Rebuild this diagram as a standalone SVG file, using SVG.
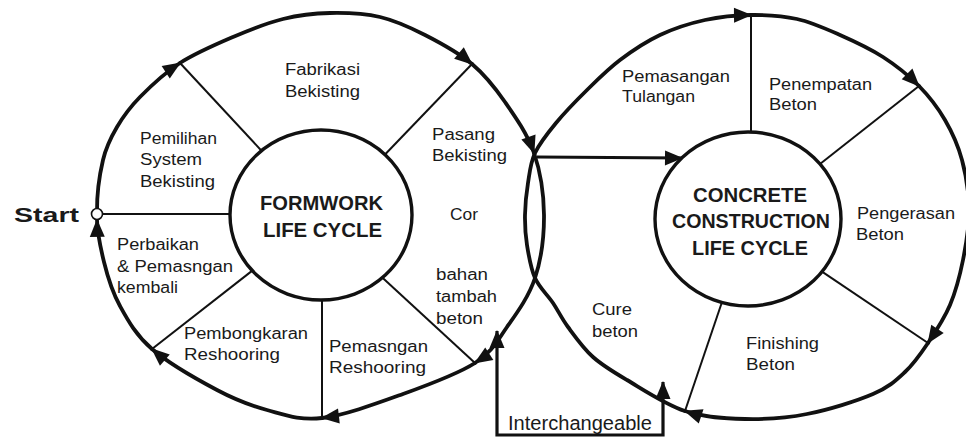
<svg xmlns="http://www.w3.org/2000/svg" width="966" height="437" viewBox="0 0 966 437">
  <style>
    .loop { fill: none; stroke: #111; stroke-width: 3.8; stroke-linecap: round; stroke-linejoin: round; }
    .flow { marker-end: url(#ah); }
    .spoke { fill: none; stroke: #111; stroke-width: 2; }
    .hub { fill: none; stroke: #111; stroke-width: 3.4; }
    .t { font-family: "Liberation Sans", Arial, Helvetica, sans-serif; font-size: 16px; fill: #1a1a1a; }
    .b { font-family: "Liberation Sans", Arial, Helvetica, sans-serif; font-size: 20px; font-weight: bold; fill: #1a1a1a; }
  </style>
  <defs>
    <marker id="ah" markerUnits="userSpaceOnUse" markerWidth="19" markerHeight="15" refX="17" refY="7.5" orient="auto" overflow="visible">
      <path d="M0,0 L18,7.5 L0,15 Z" fill="#111"/>
    </marker>
    <marker id="ah-rev" markerUnits="userSpaceOnUse" markerWidth="19" markerHeight="15" refX="17" refY="7.5" orient="auto-start-reverse" overflow="visible">
      <path d="M0,0 L18,7.5 L0,15 Z" fill="#111"/>
    </marker>
  </defs>

  <rect width="966" height="437" fill="#fff"/>

  <!-- stage boundaries (spokes from hub to outer loop) -->
  <g id="spokes">
    <line class="spoke" x1="102" y1="214" x2="230" y2="214"/>
    <line class="spoke" x1="180" y1="63" x2="261.5" y2="150.7"/>
    <line class="spoke" x1="472" y1="64" x2="385" y2="154.5"/>
    <line class="spoke" x1="475" y1="363" x2="382.5" y2="277.7"/>
    <line class="spoke" x1="322" y1="418" x2="322" y2="300"/>
    <line class="spoke" x1="152" y1="349" x2="252.3" y2="270.6"/>
    <line class="spoke" x1="751" y1="15" x2="751" y2="132"/>
    <line class="spoke" x1="919" y1="86" x2="820" y2="164"/>
    <line class="spoke" x1="928" y1="343" x2="822" y2="271.6"/>
    <line class="spoke" x1="685" y1="411" x2="722" y2="302"/>
  </g>

  <!-- connectors: the two life-cycle loops, the hand-over arrow and the interchange link -->
  <g id="connectors">
    <path id="fw-1" class="loop flow" d="M97,212 C96.83,195 99.67,174.17 103,160 C106.33,145.83 110.83,137.5 117,127 C123.17,116.5 129.5,107.67 140,97 C150.5,86.33 164.5,73 180,63"/>
    <path id="fw-2" class="loop flow" d="M180,63 C195.5,53 215.83,44.33 233,37 C250.17,29.67 266.83,23 283,19 C299.17,15 313.83,13.33 330,13 C346.17,12.67 364.17,13.33 380,17 C395.83,20.67 409.67,27.17 425,35 C440.33,42.83 458.67,52.83 472,64"/>
    <path id="fw-3" class="loop flow" d="M472,64 C485.33,75.17 494.67,87.17 505,102 C515.33,116.83 527.5,134.17 534,153"/>
    <path id="fw-4" class="loop flow" d="M534,153 C540.5,171.83 543.83,194.17 544,215 C544.17,235.83 541.17,259.33 535,278 C528.83,296.67 517,312.83 507,327 C497,341.17 492.33,351.83 475,363"/>
    <path id="fw-5" class="loop flow" d="M475,363 C457.67,374.17 428.5,384.83 403,394 C377.5,403.17 344.67,415.33 322,418"/>
    <path id="fw-6" class="loop flow" d="M322,418 C299.33,420.67 284.5,414.67 267,410 C249.5,405.33 236.17,400.17 217,390 C197.83,379.83 168.17,363 152,349"/>
    <path id="fw-7" class="loop flow" d="M152,349 C135.83,335 128,320.5 120,306 C112,291.5 107.83,277.67 104,262 C100.17,246.33 97.2,232 97,220"/>

    <path id="cc-1" class="loop flow" d="M685,411 C665.33,404.5 642.33,389 627,380 C611.67,371 602.83,365.83 593,357 C583.17,348.17 574.67,336 568,327 C561.33,318 558.5,311.17 553,303 C547.5,294.83 539.33,287.67 535,278 C530.67,268.33 528.67,255.5 527,245 C525.33,234.5 524.83,225.33 525,215 C525.17,204.67 526.33,193.33 528,183 C529.67,172.67 530.33,163 535,153 C539.67,143 547.33,133.5 556,123 C564.67,112.5 576.33,100.5 587,90 C597.67,79.5 607.83,69.17 620,60 C632.17,50.83 645.83,41.67 660,35 C674.17,28.33 689.83,23.33 705,20 C720.17,16.67 735.67,15.17 751,15"/>
    <path id="cc-2" class="loop flow" d="M751,15 C766.33,14.83 782.17,15.67 797,19 C811.83,22.33 825.67,28.67 840,35 C854.33,41.33 869.83,48.5 883,57 C896.17,65.5 908.67,75.5 919,86"/>
    <path id="cc-3" class="loop flow" d="M919,86 C929.33,96.5 937.83,107.67 945,120 C952.17,132.33 958,145 962,160 C966,175 968.83,193.33 969,210 C969.17,226.67 966.17,244.17 963,260 C959.83,275.83 955.83,291.17 950,305 C944.17,318.83 935.5,331.83 928,343"/>
    <path id="cc-4" class="loop flow" d="M928,343 C920.5,354.17 914.17,363.5 905,372 C895.83,380.5 889.33,387 873,394 C856.67,401 828.33,409.83 807,414 C785.67,418.17 765.33,419.5 745,419 C724.67,418.5 704.67,417.5 685,411"/>

    <path id="handover" d="M537,157 L682,158" fill="none" stroke="#111" stroke-width="3.2" marker-end="url(#ah)"/>
    <path id="interchange" d="M497,331 V435 H663 V382" fill="none" stroke="#111" stroke-width="3.2" marker-start="url(#ah-rev)" marker-end="url(#ah)"/>
  </g>

  <!-- hubs -->
  <g id="formwork-hub">
    <ellipse class="hub" cx="321" cy="215" rx="91" ry="85"/>
    <text class="b" x="260" y="210" textLength="123" lengthAdjust="spacingAndGlyphs">FORMWORK</text>
    <text class="b" x="263" y="237" textLength="119" lengthAdjust="spacingAndGlyphs">LIFE CYCLE</text>
  </g>
  <g id="concrete-hub">
    <ellipse class="hub" cx="748" cy="219" rx="93" ry="87"/>
    <text class="b" x="693" y="202" textLength="114" lengthAdjust="spacingAndGlyphs">CONCRETE</text>
    <text class="b" x="672" y="228" textLength="158" lengthAdjust="spacingAndGlyphs">CONSTRUCTION</text>
    <text class="b" x="692" y="255" textLength="116" lengthAdjust="spacingAndGlyphs">LIFE CYCLE</text>
  </g>

  <g id="start">
    <circle cx="97" cy="214" r="5.5" fill="#fff" stroke="#111" stroke-width="1.6"/>
    <text class="b" x="14" y="222" textLength="65" lengthAdjust="spacingAndGlyphs" style="font-size:21px">Start</text>
  </g>

  <!-- formwork stages -->
  <g id="pemilihan-system">
    <text class="t" x="140" y="144" textLength="77" lengthAdjust="spacingAndGlyphs">Pemilihan</text>
    <text class="t" x="140" y="165" textLength="62" lengthAdjust="spacingAndGlyphs">System</text>
    <text class="t" x="140" y="187" textLength="75" lengthAdjust="spacingAndGlyphs">Bekisting</text>
  </g>
  <g id="fabrikasi">
    <text class="t" x="285" y="75" textLength="75" lengthAdjust="spacingAndGlyphs">Fabrikasi</text>
    <text class="t" x="285" y="97" textLength="75" lengthAdjust="spacingAndGlyphs">Bekisting</text>
  </g>
  <g id="pasang">
    <text class="t" x="432" y="140" textLength="63" lengthAdjust="spacingAndGlyphs">Pasang</text>
    <text class="t" x="432" y="161" textLength="75" lengthAdjust="spacingAndGlyphs">Bekisting</text>
  </g>
  <g id="cor">
    <text class="t" x="450" y="220" textLength="28" lengthAdjust="spacingAndGlyphs">Cor</text>
    <text class="t" x="436" y="280" textLength="52" lengthAdjust="spacingAndGlyphs">bahan</text>
    <text class="t" x="436" y="302" textLength="61" lengthAdjust="spacingAndGlyphs">tambah</text>
    <text class="t" x="436" y="324" textLength="47" lengthAdjust="spacingAndGlyphs">beton</text>
  </g>
  <g id="pemasangan-reshooring">
    <text class="t" x="329" y="352" textLength="99" lengthAdjust="spacingAndGlyphs">Pemasngan</text>
    <text class="t" x="329" y="373" textLength="97" lengthAdjust="spacingAndGlyphs">Reshooring</text>
  </g>
  <g id="pembongkaran">
    <text class="t" x="184" y="339" textLength="124" lengthAdjust="spacingAndGlyphs">Pembongkaran</text>
    <text class="t" x="184" y="360" textLength="96" lengthAdjust="spacingAndGlyphs">Reshooring</text>
  </g>
  <g id="perbaikan">
    <text class="t" x="117" y="250" textLength="82" lengthAdjust="spacingAndGlyphs">Perbaikan</text>
    <text class="t" x="117" y="272" textLength="116" lengthAdjust="spacingAndGlyphs">&amp; Pemasngan</text>
    <text class="t" x="117" y="293" textLength="61" lengthAdjust="spacingAndGlyphs">kembali</text>
  </g>

  <!-- concrete stages -->
  <g id="tulangan">
    <text class="t" x="622" y="82" textLength="108" lengthAdjust="spacingAndGlyphs">Pemasangan</text>
    <text class="t" x="622" y="102" textLength="73" lengthAdjust="spacingAndGlyphs">Tulangan</text>
  </g>
  <g id="penempatan">
    <text class="t" x="769" y="90" textLength="103" lengthAdjust="spacingAndGlyphs">Penempatan</text>
    <text class="t" x="769" y="110" textLength="48" lengthAdjust="spacingAndGlyphs">Beton</text>
  </g>
  <g id="pengerasan">
    <text class="t" x="857" y="219" textLength="98" lengthAdjust="spacingAndGlyphs">Pengerasan</text>
    <text class="t" x="856" y="240" textLength="48" lengthAdjust="spacingAndGlyphs">Beton</text>
  </g>
  <g id="finishing">
    <text class="t" x="746" y="349" textLength="73" lengthAdjust="spacingAndGlyphs">Finishing</text>
    <text class="t" x="746" y="370" textLength="49" lengthAdjust="spacingAndGlyphs">Beton</text>
  </g>
  <g id="cure">
    <text class="t" x="592" y="315" textLength="40" lengthAdjust="spacingAndGlyphs">Cure</text>
    <text class="t" x="592" y="337" textLength="46" lengthAdjust="spacingAndGlyphs">beton</text>
  </g>
  <g id="interchangeable">
    <text class="t" x="508" y="430" textLength="144" lengthAdjust="spacingAndGlyphs" style="font-size:20px">Interchangeable</text>
  </g>
</svg>
